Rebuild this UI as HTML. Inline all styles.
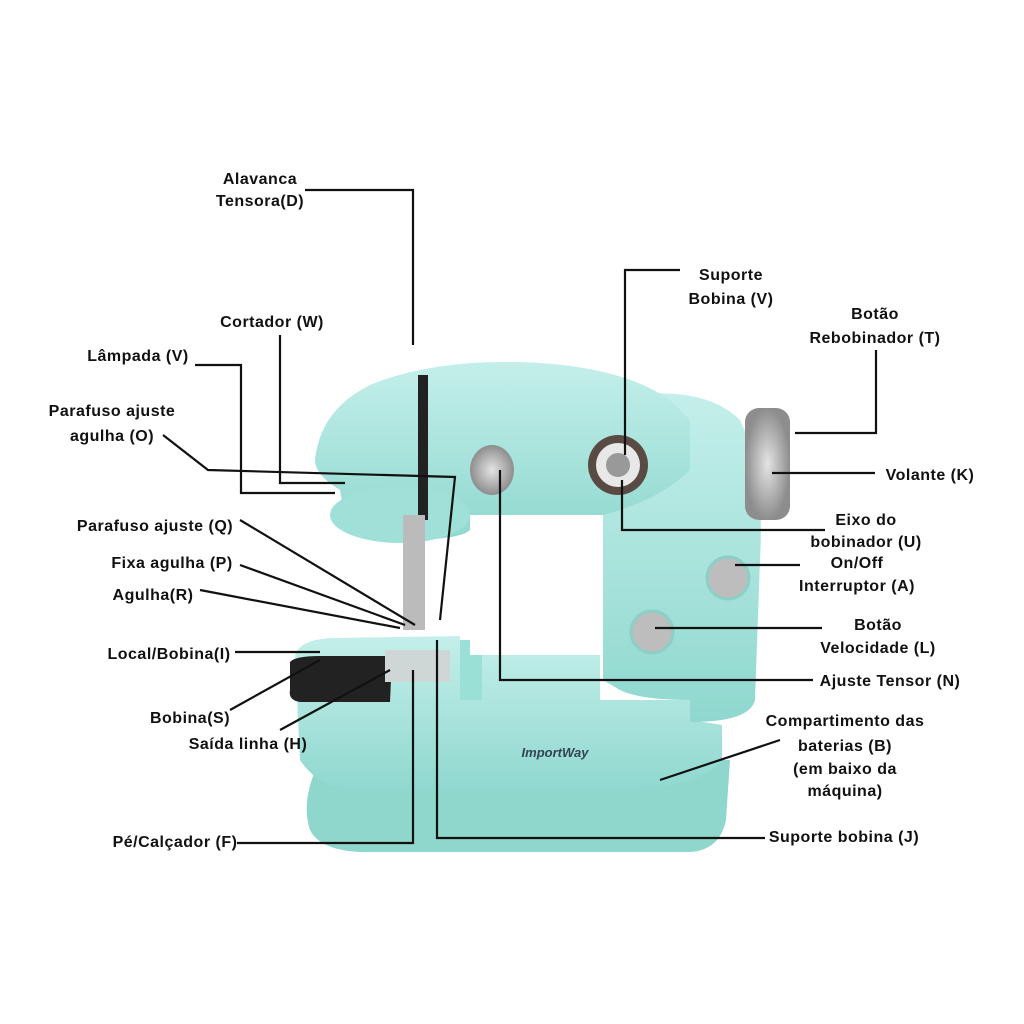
<!DOCTYPE html>
<html><head><meta charset="utf-8"><style>
html,body{margin:0;padding:0;background:#fff;}
svg{display:block}
text{font-family:"Liberation Sans",sans-serif;font-weight:bold;font-size:16px;letter-spacing:0.5px;fill:#111;text-anchor:middle}
</style></head><body>
<svg width="1024" height="1024" viewBox="0 0 1024 1024">
<defs>
<linearGradient id="m" x1="0" y1="0" x2="0" y2="1"><stop offset="0" stop-color="#c4efea"/><stop offset="1" stop-color="#8fd8cf"/></linearGradient>
<radialGradient id="g"><stop offset="0" stop-color="#e4e4e4"/><stop offset="1" stop-color="#8d8d8d"/></radialGradient>
</defs>
<path d="M320 760 Q300 800 310 830 Q320 850 360 852 L690 852 Q720 850 726 820 L730 760 Z" fill="#8fd6cc"/>
<path d="M295 655 Q300 640 330 638 L460 636 L460 655 L600 655 L600 700 L690 700 L690 720 L722 725 L722 760 Q700 790 600 792 L360 792 Q320 790 300 760 Z" fill="url(#m)"/>
<rect x="460" y="640" width="22" height="60" fill="#9be0d7"/>
<path d="M600 400 Q700 380 740 420 Q765 470 760 560 L755 700 Q750 722 690 722 L690 700 Q640 700 620 690 L603 680 L603 515 Z" fill="url(#m)"/>
<path d="M315 460 Q320 410 370 385 Q430 360 520 362 Q620 365 670 400 L690 420 L690 470 Q660 500 603 515 L470 515 L470 530 Q460 540 400 540 Q350 538 345 520 L340 490 Q315 475 315 460 Z" fill="url(#m)"/>
<ellipse cx="400" cy="515" rx="70" ry="28" fill="#9fe0d8"/>
<rect x="470" y="515" width="133" height="140" fill="#fff"/>
<path d="M290 662 Q295 656 320 656 L392 656 L390 702 L300 702 Q288 700 290 690 Z" fill="#222"/>
<rect x="385" y="650" width="65" height="32" fill="#cfd6d6"/>
<rect x="745" y="408" width="45" height="112" rx="14" fill="url(#g)"/>
<circle cx="618" cy="465" r="30" fill="#5a4a44"/>
<circle cx="618" cy="465" r="22" fill="#e8e8e8"/>
<circle cx="618" cy="465" r="12" fill="#999"/>
<ellipse cx="492" cy="470" rx="22" ry="25" fill="url(#g)"/>
<rect x="418" y="375" width="10" height="145" fill="#222"/>
<rect x="403" y="515" width="22" height="115" fill="#bbb"/>
<circle cx="728" cy="578" r="21" fill="#bdbdbd" stroke="#8ccfc6" stroke-width="3"/>
<circle cx="652" cy="632" r="21" fill="#bdbdbd" stroke="#8ccfc6" stroke-width="3"/>
<text x="555" y="757" style="font-size:13px;font-style:italic;fill:#345;letter-spacing:0">ImportWay</text>
<g stroke="#111" stroke-width="2.2" fill="none">
<polyline points="305,190 413,190 413,345"/>
<polyline points="280,335 280,483 345,483"/>
<polyline points="195,365 241,365 241,493 335,493"/>
<polyline points="163,435 208,470 455,477 440,620"/>
<line x1="240" y1="520" x2="415" y2="625"/>
<line x1="240" y1="565" x2="405" y2="625"/>
<line x1="200" y1="590" x2="400" y2="628"/>
<line x1="235" y1="652" x2="320" y2="652"/>
<line x1="230" y1="710" x2="320" y2="660"/>
<line x1="280" y1="730" x2="390" y2="670"/>
<polyline points="237,843 413,843 413,670"/>
<polyline points="765,838 437,838 437,640"/>
<polyline points="680,270 625,270 625,455"/>
<polyline points="876,350 876,433 795,433"/>
<line x1="875" y1="473" x2="772" y2="473"/>
<polyline points="825,530 622,530 622,480"/>
<line x1="800" y1="565" x2="735" y2="565"/>
<line x1="822" y1="628" x2="655" y2="628"/>
<polyline points="813,680 500,680 500,470"/>
<line x1="780" y1="740" x2="660" y2="780"/>
</g>
<text x="260" y="184">Alavanca</text><text x="260" y="206">Tensora(D)</text>
<text x="272" y="327">Cortador (W)</text>
<text x="138" y="361">Lâmpada (V)</text>
<text x="112" y="416">Parafuso ajuste</text><text x="112" y="441">agulha (O)</text>
<text x="155" y="531">Parafuso ajuste (Q)</text>
<text x="172" y="568">Fixa agulha (P)</text>
<text x="153" y="600">Agulha(R)</text>
<text x="169" y="659">Local/Bobina(I)</text>
<text x="190" y="723">Bobina(S)</text>
<text x="248" y="749">Saída linha (H)</text>
<text x="175" y="847">Pé/Calçador (F)</text>
<text x="844" y="842">Suporte bobina (J)</text>
<text x="731" y="280">Suporte</text><text x="731" y="304">Bobina (V)</text>
<text x="875" y="319">Botão</text><text x="875" y="343">Rebobinador (T)</text>
<text x="930" y="480">Volante (K)</text>
<text x="866" y="525">Eixo do</text><text x="866" y="547">bobinador (U)</text>
<text x="857" y="568">On/Off</text><text x="857" y="591">Interruptor (A)</text>
<text x="878" y="630">Botão</text><text x="878" y="653">Velocidade (L)</text>
<text x="890" y="686">Ajuste Tensor (N)</text>
<text x="845" y="726">Compartimento das</text><text x="845" y="751">baterias (B)</text><text x="845" y="774">(em baixo da</text><text x="845" y="796">máquina)</text>
</svg>
</body></html>
